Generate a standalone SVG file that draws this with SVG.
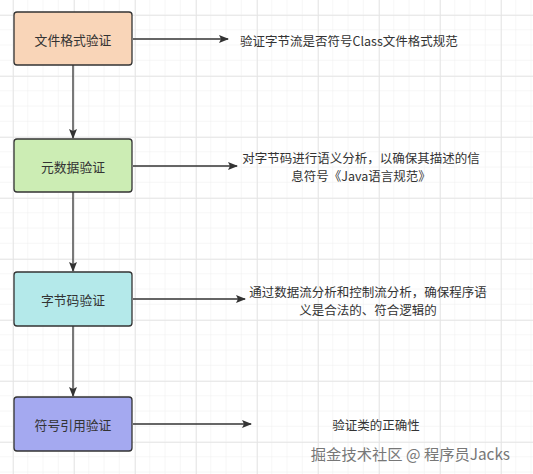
<svg xmlns="http://www.w3.org/2000/svg" width="533" height="474" viewBox="0 0 533 474">
<defs>
<pattern id="minor" width="15.25" height="15.25" patternUnits="userSpaceOnUse" x="13" y="15">
<path d="M15.25 0V15.25H0" fill="none" stroke="#eeeeee" stroke-width="1"/>
</pattern>
<pattern id="major" width="61" height="61" patternUnits="userSpaceOnUse" x="13" y="15">
<path d="M0 0V61M0 0H61" fill="none" stroke="#e4e4e4" stroke-width="1.5"/>
</pattern>
<marker id="arr" viewBox="0 0 10 8" refX="9" refY="4" markerWidth="10" markerHeight="8" markerUnits="userSpaceOnUse" orient="auto">
<path d="M0 0L10 4L0 8L2 4Z" fill="#333333"/>
</marker>
<style>
.node{stroke:#333333;stroke-width:1.3}
.lbl{font-family:"Microsoft YaHei","Noto Sans CJK SC",sans-serif;font-size:12.8px;fill:#333333;text-anchor:middle;dominant-baseline:central}
.desc{font-family:"Microsoft YaHei","Noto Sans CJK SC",sans-serif;font-size:12.5px;fill:#333333;dominant-baseline:central}
.conn{stroke:#333333;stroke-width:1.3;fill:none;marker-end:url(#arr)}
</style>
</defs>
<rect width="533" height="474" fill="#ffffff"/>
<rect width="533" height="474" fill="url(#minor)"/>
<rect width="533" height="474" fill="url(#major)"/>
<g id="connectors">
<path class="conn" d="M73 65V138"/>
<path class="conn" d="M73 192V271"/>
<path class="conn" d="M73 326V396"/>
<path class="conn" d="M133 39H228"/>
<path class="conn" d="M133 166H237"/>
<path class="conn" d="M133 299H245"/>
<path class="conn" d="M133 424H251"/>
</g>
<g id="node1">
<rect class="node" x="14" y="12" width="118" height="53" rx="3" fill="#f9d5b8"/>
<text class="lbl" x="73" y="39">文件格式验证</text>
</g>
<g id="node2">
<rect class="node" x="14" y="139" width="118" height="53" rx="3" fill="#ccedb4"/>
<text class="lbl" x="73" y="166">元数据验证</text>
</g>
<g id="node3">
<rect class="node" x="14" y="272" width="118" height="54" rx="3" fill="#b4e9ea"/>
<text class="lbl" x="73" y="299">字节码验证</text>
</g>
<g id="node4">
<rect class="node" x="14" y="397" width="118" height="54" rx="3" fill="#a4a9f0"/>
<text class="lbl" x="73" y="424">符号引用验证</text>
</g>
<g id="desc1">
<text class="desc" x="240" y="40">验证字节流是否符号Class文件格式规范</text>
</g>
<g id="desc2">
<text class="desc" x="361" y="157" text-anchor="middle">对字节码进行语义分析，以确保其描述的信</text>
<text class="desc" x="361" y="175" text-anchor="middle">息符号《Java语言规范》</text>
</g>
<g id="desc3">
<text class="desc" x="368" y="291" text-anchor="middle">通过数据流分析和控制流分析，确保程序语</text>
<text class="desc" x="368" y="309" text-anchor="middle">义是合法的、符合逻辑的</text>
</g>
<g id="desc4">
<text class="desc" x="376" y="424" text-anchor="middle">验证类的正确性</text>
</g>
<text x="510" y="453" text-anchor="end" dominant-baseline="central" font-family="'Noto Sans CJK SC',sans-serif" font-size="15.3" fill="#777777">掘金技术社区 @ 程序员Jacks</text>
</svg>
